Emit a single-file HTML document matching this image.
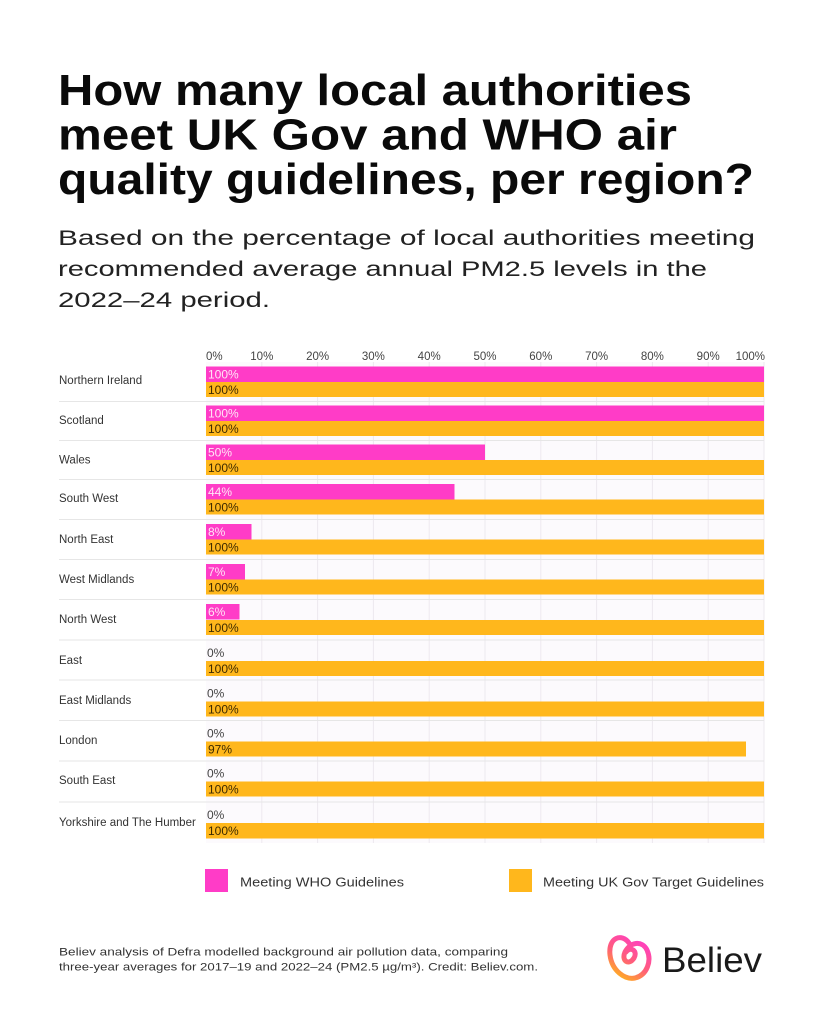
<!DOCTYPE html>
<html>
<head>
<meta charset="utf-8">
<style>
  html,body{margin:0;padding:0;background:#fff;}
  svg{display:block;}
  text{font-family:"Liberation Sans",sans-serif;}
</style>
</head>
<body>
<svg width="824" height="1024" viewBox="0 0 824 1024" xmlns="http://www.w3.org/2000/svg">
  <defs>
    <linearGradient id="lg" x1="0.8" y1="0" x2="0.2" y2="1">
      <stop offset="0" stop-color="#FF3CC7"/>
      <stop offset="0.55" stop-color="#FF5E7A"/>
      <stop offset="1" stop-color="#FFB21C"/>
    </linearGradient>
  </defs>
  <rect width="824" height="1024" fill="#fff"/>

  <!-- Title -->
  <g font-weight="bold" font-size="44" fill="#0a0a0a">
    <text x="58" y="105" textLength="634" lengthAdjust="spacingAndGlyphs">How many local authorities</text>
    <text x="58" y="149.5" textLength="619" lengthAdjust="spacingAndGlyphs">meet UK Gov and WHO air</text>
    <text x="58" y="194" textLength="696" lengthAdjust="spacingAndGlyphs">quality guidelines, per region?</text>
  </g>

  <!-- Subtitle -->
  <g font-size="21" fill="#222">
    <text x="58" y="245" textLength="697" lengthAdjust="spacingAndGlyphs">Based on the percentage of local authorities meeting</text>
    <text x="58" y="276" textLength="649" lengthAdjust="spacingAndGlyphs">recommended average annual PM2.5 levels in the</text>
    <text x="58" y="307" textLength="212" lengthAdjust="spacingAndGlyphs">2022–24 period.</text>
  </g>

  <!-- Plot background -->
  <rect x="206" y="362" width="558" height="481" fill="#FCFAFD"/>

  <!-- Vertical gridlines -->
  <g stroke="#EDE9EF" stroke-width="1">
    <line x1="261.8" y1="362" x2="261.8" y2="843"/>
    <line x1="317.6" y1="362" x2="317.6" y2="843"/>
    <line x1="373.4" y1="362" x2="373.4" y2="843"/>
    <line x1="429.2" y1="362" x2="429.2" y2="843"/>
    <line x1="485" y1="362" x2="485" y2="843"/>
    <line x1="540.8" y1="362" x2="540.8" y2="843"/>
    <line x1="596.6" y1="362" x2="596.6" y2="843"/>
    <line x1="652.4" y1="362" x2="652.4" y2="843"/>
    <line x1="708.2" y1="362" x2="708.2" y2="843"/>
    <line x1="764" y1="362" x2="764" y2="843"/>
  </g>

  <!-- Horizontal dividers -->
  <g stroke="#E6E6E6" stroke-width="1">
    <line x1="59" y1="401.5" x2="764" y2="401.5"/>
    <line x1="59" y1="440.5" x2="764" y2="440.5"/>
    <line x1="59" y1="479.5" x2="764" y2="479.5"/>
    <line x1="59" y1="519.5" x2="764" y2="519.5"/>
    <line x1="59" y1="559.5" x2="764" y2="559.5"/>
    <line x1="59" y1="599.5" x2="764" y2="599.5"/>
    <line x1="59" y1="640" x2="764" y2="640"/>
    <line x1="59" y1="680" x2="764" y2="680"/>
    <line x1="59" y1="720.5" x2="764" y2="720.5"/>
    <line x1="59" y1="761" x2="764" y2="761"/>
    <line x1="59" y1="802" x2="764" y2="802"/>
  </g>

  <!-- Tick labels -->
  <g font-size="11.5" fill="#444">
    <text x="206" y="360">0%</text>
    <text x="261.8" y="360" text-anchor="middle">10%</text>
    <text x="317.6" y="360" text-anchor="middle">20%</text>
    <text x="373.4" y="360" text-anchor="middle">30%</text>
    <text x="429.2" y="360" text-anchor="middle">40%</text>
    <text x="485" y="360" text-anchor="middle">50%</text>
    <text x="540.8" y="360" text-anchor="middle">60%</text>
    <text x="596.6" y="360" text-anchor="middle">70%</text>
    <text x="652.4" y="360" text-anchor="middle">80%</text>
    <text x="708.2" y="360" text-anchor="middle">90%</text>
    <text x="765" y="360" text-anchor="end">100%</text>
  </g>

  <!-- Row labels -->
  <g font-size="11.5" fill="#333">
    <text x="59" y="384">Northern Ireland</text>
    <text x="59" y="424">Scotland</text>
    <text x="59" y="463.5">Wales</text>
    <text x="59" y="502">South West</text>
    <text x="59" y="543">North East</text>
    <text x="59" y="583">West Midlands</text>
    <text x="59" y="623">North West</text>
    <text x="59" y="664">East</text>
    <text x="59" y="704">East Midlands</text>
    <text x="59" y="744">London</text>
    <text x="59" y="784">South East</text>
    <text x="59" y="826">Yorkshire and The Humber</text>
  </g>

  <!-- Pink bars -->
  <g fill="#FF3CC7">
    <rect x="206" y="366.5" width="558" height="15.5"/>
    <rect x="206" y="405.5" width="558" height="15.5"/>
    <rect x="206" y="444.5" width="279" height="15.5"/>
    <rect x="206" y="484" width="248.5" height="15.5"/>
    <rect x="206" y="524" width="45.5" height="15.5"/>
    <rect x="206" y="564" width="39" height="15.5"/>
    <rect x="206" y="604" width="33.5" height="15.5"/>
  </g>
  <!-- Orange bars -->
  <g fill="#FFB71C">
    <rect x="206" y="382" width="558" height="15"/>
    <rect x="206" y="421" width="558" height="15"/>
    <rect x="206" y="460" width="558" height="15"/>
    <rect x="206" y="499.5" width="558" height="15"/>
    <rect x="206" y="539.5" width="558" height="15"/>
    <rect x="206" y="579.5" width="558" height="15"/>
    <rect x="206" y="620" width="558" height="15"/>
    <rect x="206" y="661" width="558" height="15"/>
    <rect x="206" y="701.5" width="558" height="15"/>
    <rect x="206" y="741.5" width="540" height="15"/>
    <rect x="206" y="781.5" width="558" height="15"/>
    <rect x="206" y="823" width="558" height="15.5"/>
  </g>

  <!-- Pink bar labels -->
  <g font-size="12" fill="#FFE4F6">
    <text x="208" y="378.5">100%</text>
    <text x="208" y="417.5">100%</text>
    <text x="208" y="456.5">50%</text>
    <text x="208" y="496">44%</text>
    <text x="208" y="536">8%</text>
    <text x="208" y="576">7%</text>
    <text x="208" y="616">6%</text>
  </g>
  <!-- Zero labels -->
  <g font-size="12" fill="#444">
    <text x="207" y="657">0%</text>
    <text x="207" y="697.5">0%</text>
    <text x="207" y="737.5">0%</text>
    <text x="207" y="777.5">0%</text>
    <text x="207" y="819">0%</text>
  </g>
  <!-- Orange bar labels -->
  <g font-size="12" fill="#3D2A00">
    <text x="208" y="394">100%</text>
    <text x="208" y="433">100%</text>
    <text x="208" y="472">100%</text>
    <text x="208" y="511.5">100%</text>
    <text x="208" y="551.5">100%</text>
    <text x="208" y="591.5">100%</text>
    <text x="208" y="632">100%</text>
    <text x="208" y="673">100%</text>
    <text x="208" y="713.5">100%</text>
    <text x="208" y="753.5">97%</text>
    <text x="208" y="793.5">100%</text>
    <text x="208" y="835">100%</text>
  </g>

  <!-- Legend -->
  <rect x="205" y="869" width="23" height="23" fill="#FF3CC7"/>
  <text x="240" y="886.5" font-size="13" fill="#333" textLength="164" lengthAdjust="spacingAndGlyphs">Meeting WHO Guidelines</text>
  <rect x="509" y="869" width="23" height="23" fill="#FFB71C"/>
  <text x="543" y="886.5" font-size="13" fill="#333" textLength="221" lengthAdjust="spacingAndGlyphs">Meeting UK Gov Target Guidelines</text>

  <!-- Footer -->
  <g font-size="11" fill="#333">
    <text x="59" y="955.5" textLength="449" lengthAdjust="spacingAndGlyphs">Believ analysis of Defra modelled background air pollution data, comparing</text>
    <text x="59" y="970.5" textLength="479" lengthAdjust="spacingAndGlyphs">three-year averages for 2017–19 and 2022–24 (PM2.5 µg/m³). Credit: Believ.com.</text>
  </g>

  <!-- Logo -->
  <path d="M629 943 C622 933 608 937 610 955 C612 971 625 980 635 978 C647 975 652 961 647 950 C642 940 630 942 625 952 C621 961 629 966 634 958 C638 951 631 946 626 952"
        fill="none" stroke="url(#lg)" stroke-width="5" stroke-linecap="round" stroke-linejoin="round"/>
  <text x="662" y="972" font-size="35" fill="#1a1a1a" textLength="100" lengthAdjust="spacingAndGlyphs">Believ</text>
</svg>
</body>
</html>
